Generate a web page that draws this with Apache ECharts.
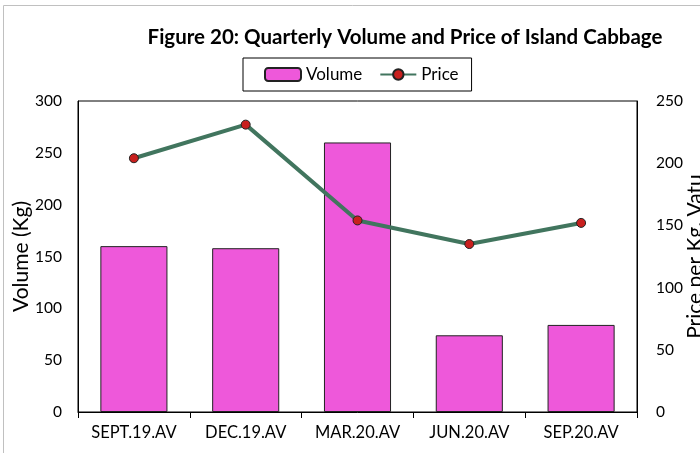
<!DOCTYPE html>
<html><head><meta charset="utf-8">
<script src="https://cdn.jsdelivr.net/npm/echarts@6/dist/echarts.min.js"></script>
<style>html,body{margin:0;padding:0;background:#fff}#c{width:700px;height:453px}</style>
</head><body><div id="c"></div>
<script>
const categories = ['SEPT.19.AV','DEC.19.AV','MAR.20.AV','JUN.20.AV','SEP.20.AV'];
const volume = [160, 158, 260, 74, 84];
const price = [204, 231, 154, 135, 152];
const volTicks = {min:0, max:300, interval:50};
const priceTicks = {min:0, max:250, interval:50};
const FONT = 'Lato';
const chart = echarts.init(document.getElementById('c'));
chart.setOption({
  animation:false,
  textStyle:{fontFamily:FONT},
  graphic:[{type:'rect', shape:{x:3.5,y:5.5,width:720,height:470}, style:{fill:null, stroke:'#c0c0c0', lineWidth:1}, silent:true}],
  title:{text:'Figure 20: Quarterly Volume and Price of Island Cabbage', left:400, textAlign:'center', top:22,
    textStyle:{fontFamily:FONT, fontWeight:'bold', fontSize:20.5, color:'#000'}},
  legend:{top:58, left:243, itemWidth:36, itemHeight:13, itemGap:17, borderColor:'#000', borderWidth:1, padding:[8,13,8,21],
    textStyle:{fontFamily:FONT, fontSize:17, color:'#000'},
    data:[{name:'Volume'},{name:'Price'}]},
  grid:{left:78, right:63, top:101, bottom:41, show:true, borderColor:'#000', borderWidth:1, backgroundColor:'transparent',
    containLabel:false, outerBoundsMode:'none'},
  xAxis:{type:'category', data:categories, boundaryGap:true,
    axisLine:{lineStyle:{color:'#000'}}, axisTick:{show:true, interval:0, length:6, lineStyle:{color:'#000'}},
    axisLabel:{color:'#000', fontSize:16.5, fontFamily:FONT, margin:12, interval:0, hideOverlap:false}},
  yAxis:[
    {type:'value', min:volTicks.min, max:volTicks.max, interval:volTicks.interval, name:'Volume (Kg)', nameLocation:'middle', nameGap:46,
      nameMoveOverlap:false,
      nameTextStyle:{fontSize:21, color:'#000', fontFamily:FONT},
      axisLine:{show:true, lineStyle:{color:'#000'}}, axisTick:{show:false}, splitLine:{show:false},
      axisLabel:{color:'#000', fontSize:15.5, fontFamily:FONT, margin:16}},
    {type:'value', min:priceTicks.min, max:priceTicks.max, interval:priceTicks.interval, name:'Price per Kg. Vatu', nameLocation:'middle', nameGap:48,
      nameMoveOverlap:false,
      nameTextStyle:{fontSize:21, color:'#000', fontFamily:FONT}, nameRotate:90,
      axisLine:{show:true, lineStyle:{color:'#000'}}, axisTick:{show:false}, splitLine:{show:false},
      axisLabel:{color:'#000', fontSize:15.5, fontFamily:FONT, margin:19}}
  ],
  series:[
    {name:'Volume', type:'bar', data:volume, barWidth:'60%', yAxisIndex:0,
      itemStyle:{color:'#EE58DA', borderColor:'#222', borderWidth:1}},
    {name:'Price', type:'line', data:price, yAxisIndex:1, symbol:'circle', symbolSize:9,
      lineStyle:{color:'#41755E', width:4}, itemStyle:{color:'#C8201E', borderColor:'#222', borderWidth:1}}
  ]
});
</script></body></html>
